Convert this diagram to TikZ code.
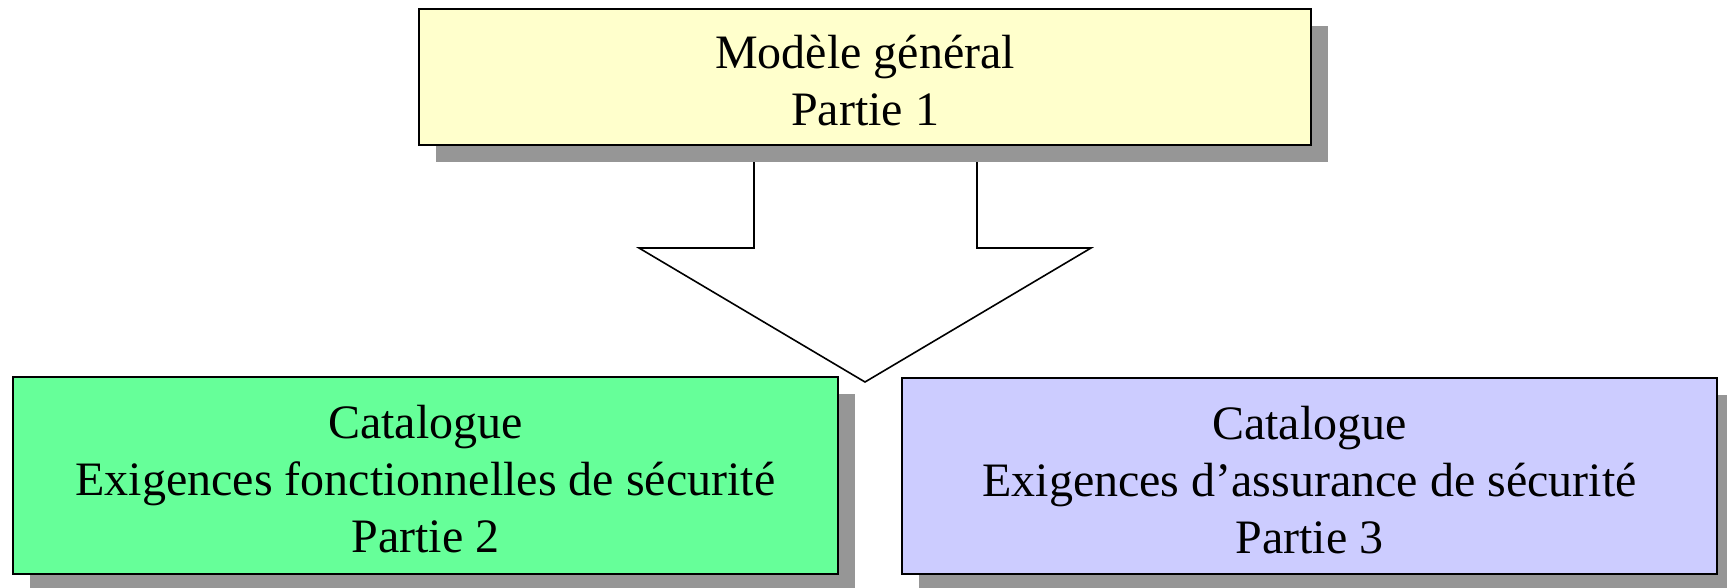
\documentclass[tikz,border=0pt]{standalone}
\usepackage{fontspec}
\setmainfont{Liberation Serif}
\usetikzlibrary{shadows}
\definecolor{partone}{HTML}{FFFFCC}
\definecolor{parttwo}{HTML}{66FF99}
\definecolor{partthree}{HTML}{CCCCFF}
\definecolor{shadowgray}{HTML}{969696}
\tikzset{
  partbox/.style={draw=black, line width=2pt, inner sep=0pt,
    drop shadow={shadow xshift=17pt, shadow yshift=-17pt, fill=shadowgray, opacity=1}},
  parttext/.style={align=center, inner sep=0pt, font=\fontsize{48}{57}\selectfont},
  bigarrow/.style={draw=black, line width=1.6pt, fill=white, line join=miter}
}
\begin{document}
\begin{tikzpicture}[x=1pt, y=-1pt]
  \useasboundingbox (0,0) rectangle (1727,587);
  % block arrow from part 1 down towards parts 2 and 3
  \coordinate (stemL) at (754,140);
  \coordinate (stemR) at (977,140);
  \draw[bigarrow] (stemL) -- (754,248) -- (639,248) -- (865,382) coordinate (tip)
    -- (1091,248) -- (977,248) -- (stemR);
  % the three parts
  \node[partbox, fill=partone, minimum width=892pt, minimum height=136pt]
    (general) at (865,77) {};
  \node[partbox, fill=parttwo, minimum width=825pt, minimum height=197pt]
    (functional) at (425.5,475.5) {};
  \node[partbox, fill=partthree, minimum width=815pt, minimum height=196pt]
    (assurance) at (1309.5,476) {};
  % their labels
  \node[parttext] (generaltext) at ([yshift=-4pt]general.center)
    {Modèle général\\Partie 1};
  \node[parttext] (functionaltext) at ([yshift=-4pt]functional.center)
    {Catalogue\\Exigences fonctionnelles de sécurité\\Partie 2};
  \node[parttext] (assurancetext) at ([yshift=-4pt]assurance.center)
    {Catalogue\\Exigences d’assurance de sécurité\\Partie 3};
\end{tikzpicture}
\end{document}
